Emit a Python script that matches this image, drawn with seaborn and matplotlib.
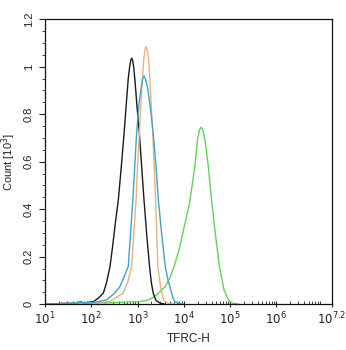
import numpy as np
import pandas as pd
import matplotlib
matplotlib.use("Agg")
import matplotlib.pyplot as plt
import matplotlib.ticker as mticker
import seaborn as sns

# log10(intensity) and count (x10^3)
black_logx = [1.0, 1.4, 1.7, 1.76, 1.82, 1.9, 2.05, 2.15, 2.26, 2.33, 2.406, 2.46, 2.52, 2.586, 2.65, 2.71, 2.76, 2.8, 2.83, 2.855, 2.875, 2.895, 2.92, 2.95, 2.99, 3.04, 3.09, 3.14, 3.2, 3.26, 3.3, 3.34, 3.4, 3.49, 3.6]
black_y    = [0.0, 0.003, 0.005, 0.01, 0.006, 0.006, 0.011, 0.025, 0.046, 0.09, 0.159, 0.24, 0.34, 0.44, 0.58, 0.72, 0.85, 0.95, 1.0, 1.027, 1.036, 1.027, 0.995, 0.93, 0.83, 0.72, 0.58, 0.44, 0.29, 0.159, 0.09, 0.046, 0.015, 0.004, 0.0]

orange_logx = [1.0, 1.5, 1.8, 2.1, 2.4, 2.55, 2.69, 2.8, 2.875, 2.92, 2.97, 3.0, 3.04, 3.09, 3.134, 3.16, 3.185, 3.21, 3.242, 3.28, 3.33, 3.36, 3.39, 3.44, 3.5, 3.56, 3.65, 3.8]
orange_y    = [0.0, 0.003, 0.005, 0.006, 0.011, 0.03, 0.046, 0.1, 0.159, 0.3, 0.44, 0.58, 0.72, 0.9, 1.03, 1.072, 1.085, 1.072, 1.03, 0.9, 0.72, 0.58, 0.44, 0.159, 0.07, 0.018, 0.005, 0.0]

blue_logx = [1.0, 1.4, 1.7, 1.76, 1.85, 2.1, 2.33, 2.5, 2.62, 2.72, 2.8, 2.85, 2.9, 2.94, 2.98, 3.03, 3.084, 3.115, 3.14, 3.165, 3.213, 3.27, 3.34, 3.4, 3.45, 3.52, 3.6, 3.66, 3.7, 3.76, 3.81, 3.9, 4.0]
blue_y    = [0.0, 0.003, 0.005, 0.009, 0.006, 0.008, 0.018, 0.045, 0.074, 0.12, 0.159, 0.3, 0.44, 0.58, 0.72, 0.84, 0.917, 0.952, 0.961, 0.952, 0.917, 0.84, 0.72, 0.58, 0.44, 0.3, 0.159, 0.1, 0.074, 0.03, 0.01, 0.003, 0.0]

green_logx = [1.0, 1.6, 2.2, 2.6, 3.0, 3.05, 3.2, 3.31, 3.45, 3.6, 3.7, 3.79, 3.9, 3.98, 4.06, 4.12, 4.18, 4.24, 4.295, 4.34, 4.374, 4.41, 4.46, 4.53, 4.6, 4.68, 4.77, 4.87, 4.95, 5.0, 5.07, 5.2]
green_y    = [0.0, 0.002, 0.005, 0.007, 0.01, 0.011, 0.016, 0.025, 0.045, 0.074, 0.11, 0.159, 0.23, 0.3, 0.369, 0.42, 0.5, 0.58, 0.69, 0.735, 0.745, 0.735, 0.69, 0.58, 0.44, 0.3, 0.159, 0.06, 0.025, 0.011, 0.003, 0.0]

series_names = ["isotype", "orange", "blue", "TFRC"]

frames = []
for name, lx, yy in zip(series_names,
                        [black_logx, orange_logx, blue_logx, green_logx],
                        [black_y, orange_y, blue_y, green_y]):
    frames.append(pd.DataFrame({"x": 10 ** np.array(lx), "y": yy, "s": name}))
df = pd.concat(frames, ignore_index=True)

sns.set_style("white")
plt.rcParams["font.family"] = ["Liberation Sans", "DejaVu Sans"]

fig = plt.figure(figsize=(3.46, 3.5), dpi=100)
ax = fig.add_axes([0.130, 0.131, 0.829, 0.814])

for name, color in zip(["TFRC", "isotype", "orange", "blue"],
                       ["#62d35a", "#1a1a1a", "#e8b27e", "#3ea5c6"]):
    sub = df[df["s"] == name]
    sns.lineplot(data=sub, x="x", y="y", color=color, lw=1.0, ax=ax,
                 sort=False, estimator=None)

ax.set_xscale("log")
ax.set_xlim(10 ** 1, 10 ** 7.2)
ax.set_ylim(0, 1.2)

xt = [1e1, 1e2, 1e3, 1e4, 1e5, 1e6, 10 ** 7.2]
xl = [r"$10^{1}$", r"$10^{2}$", r"$10^{3}$", r"$10^{4}$", r"$10^{5}$", r"$10^{6}$", r"$10^{7.2}$"]
ax.set_xticks(xt)
ax.set_xticklabels(xl, fontsize=8.5)
ax.xaxis.set_minor_locator(mticker.LogLocator(base=10, subs=np.arange(2, 10), numticks=20))
ax.xaxis.set_minor_formatter(mticker.NullFormatter())

yt = [0, 0.2, 0.4, 0.6, 0.8, 1.0, 1.2]
yl = ["0", "0.2", "0.4", "0.6", "0.8", "1", "1.2"]
ax.set_yticks(yt)
ax.set_yticklabels(yl, fontsize=8, rotation=90, va="center")
ax.yaxis.set_minor_locator(mticker.MultipleLocator(0.05))

ax.tick_params(axis="x", which="major", direction="inout", length=5, width=0.8, pad=2, colors="#222222")
ax.tick_params(axis="x", which="minor", direction="in", length=2.5, width=0.6, colors="#222222")
ax.tick_params(axis="y", which="major", direction="out", length=4, width=0.8, pad=4, colors="#222222")
ax.tick_params(axis="y", which="minor", direction="out", length=2, width=0.6, colors="#222222")
ax.tick_params(bottom=True, left=True, which="both")

for sp in ax.spines.values():
    sp.set_visible(True)
    sp.set_color("#111111")
    sp.set_linewidth(0.9)

ax.set_xlabel("TFRC-H", fontsize=8.5, labelpad=4, color="#222222")
ax.set_ylabel(r"Count [10$^3$]", fontsize=8, labelpad=4, color="#222222")

fig.savefig("out.png", dpi=100)
